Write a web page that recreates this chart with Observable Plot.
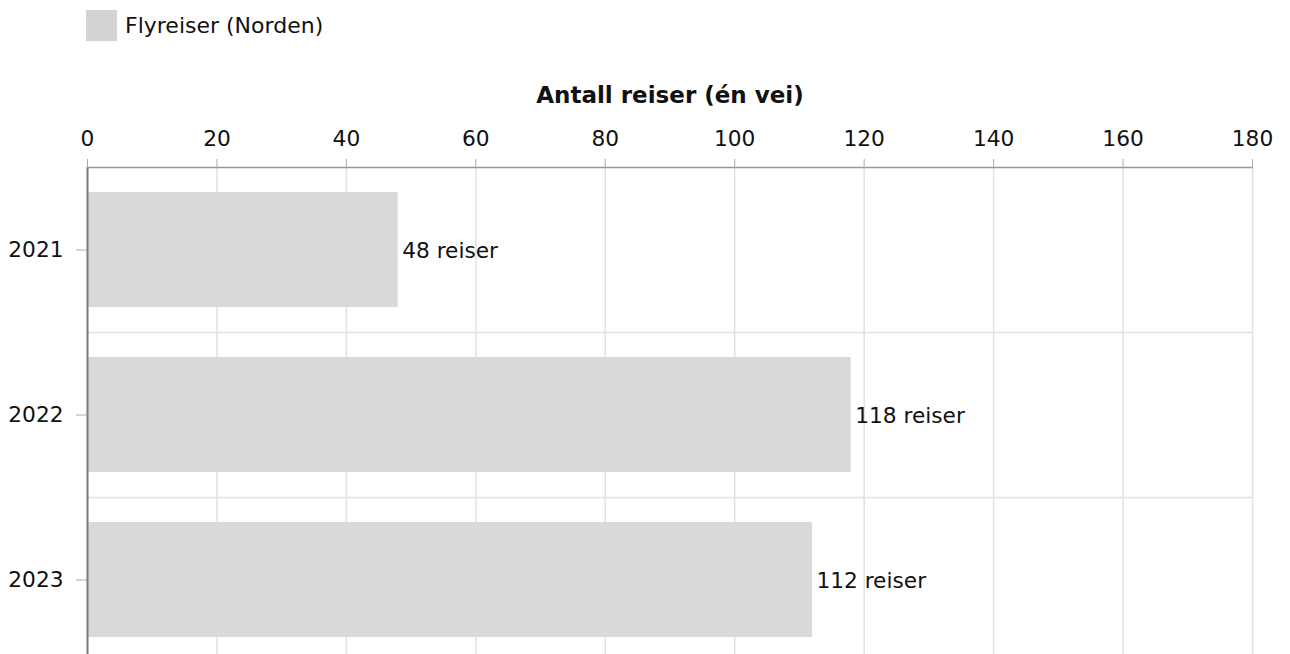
<!DOCTYPE html>
<html>
<head>
<meta charset="utf-8">
<script src="https://cdn.jsdelivr.net/npm/d3@7"></script>
<script src="https://cdn.jsdelivr.net/npm/@observablehq/plot@0.6"></script>
<style>
  html, body { margin: 0; padding: 0; overflow: hidden; background: #fff; }
  body { font-family: "DejaVu Sans", Verdana, sans-serif; width: 1290px; height: 654px; }
  #legend { height: 60px; position: relative; }
  #legend .sw { position: absolute; left: 86px; top: 10px; width: 31px; height: 31px; background: #d3d3d3; }
  #legend .lb { position: absolute; left: 125px; top: 12px; font-size: 22px; line-height: 28px; color: #111; }
</style>
</head>
<body>
<div id="legend"><span class="sw"></span><span class="lb" id="legendLabel"></span></div>
<div id="chart"></div>
<script>
// Data
const years = ["2021", "2022", "2023"];
const trips = [48, 118, 112];
const seriesName = "Flyreiser (Norden)";
const xTicks = [0, 20, 40, 60, 80, 100, 120, 140, 160, 180];
const axisTitle = "Antall reiser (én vei)";
const unitLabel = "reiser";

document.getElementById("legendLabel").textContent = seriesName;

const data = years.map((y, i) => ({year: y, value: trips[i]}));

const W = 1290, H = 602, mT = 107, mB = 0, mL = 87, mR = 38;
const pInner = 0.3, pOuter = 0.15;
const step = (H - mT - mB) / (years.length - pInner + 2 * pOuter);
const fs = 21.7;

const chart = Plot.plot({
  width: W,
  height: H,
  marginTop: mT,
  marginBottom: mB,
  marginLeft: mL,
  marginRight: mR,
  style: {fontFamily: "DejaVu Sans, Verdana, sans-serif", fontSize: fs + "px", color: "#111", background: "#fff"},
  x: {domain: [0, 180], label: null},
  y: {domain: years, type: "band", paddingInner: pInner, paddingOuter: pOuter, label: null},
  marks: [
    Plot.gridX(xTicks, {stroke: "#e2e2e2", strokeOpacity: 1, strokeWidth: 1.5}),
    Plot.ruleY(years.slice(0, -1), {y: d => d, dy: step / 2, stroke: "#e2e2e2", strokeWidth: 1.5}),
    Plot.barX(data, {y: "year", x: "value", fill: "#d9d9d9"}),
    Plot.text(data, {y: "year", x: "value", text: d => `${d.value} ${unitLabel}`, textAnchor: "start", dx: 4, dy: 1, fill: "#111", fontSize: fs}),
    Plot.frame({anchor: "top", stroke: "#999", strokeWidth: 1.5}),
    Plot.ruleX([0], {stroke: "#7a7a7a", strokeWidth: 2}),
    Plot.axisX({anchor: "top", ticks: xTicks, tickSize: 9, tickPadding: 13, stroke: "#aaa", fontSize: fs, label: null, fill: "#111"}),
    Plot.axisY({anchor: "left", tickSize: 11, tickPadding: 13, stroke: "#aaa", fontSize: fs, label: null, fill: "#111"}),
    Plot.text([axisTitle], {frameAnchor: "top", dy: -72, text: d => d, fontWeight: "bold", fontSize: 23, lineAnchor: "middle", fill: "#111"})
  ]
});
document.getElementById("chart").appendChild(chart);
</script>
</body>
</html>
